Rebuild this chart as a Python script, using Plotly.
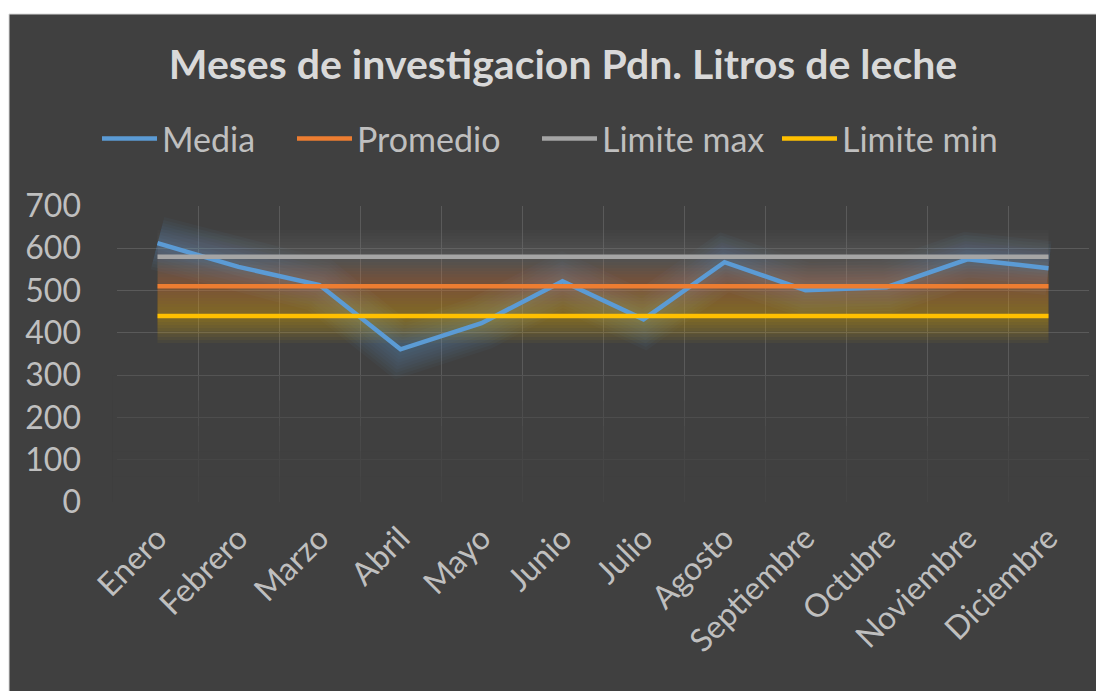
import plotly.graph_objects as go

# === DATA ===
meses = ["Enero", "Febrero", "Marzo", "Abril", "Mayo", "Junio", "Julio",
         "Agosto", "Septiembre", "Octubre", "Noviembre", "Diciembre"]
media = [612, 556, 513, 361, 423, 522, 432, 567, 501, 508, 574, 553]
promedio = [510] * 12
limite_max = [580] * 12
limite_min = [440] * 12

SERIES = [
    ("Media", media, "#5b9bd5"),
    ("Promedio", promedio, "#ed7d31"),
    ("Limite max", limite_max, "#a5a5a5"),
    ("Limite min", limite_min, "#ffc000"),
]
LEGEND_X = [103, 298, 543, 783]  # where each legend entry starts (px)

BG = "#404040"
FONT = "Lato"
OFF = 8  # page body margin the figure sits inside

W, H = 1104, 691
L, T = 117 - OFF, 206 - OFF
R, B = W - (1089 - OFF), H - (502 - OFF)
pw, ph = W - L - R, H - T - B


def px_x(x):
    return (x - OFF - L) / pw


def px_y(y):
    return (H - B - (y - OFF)) / ph


fig = go.Figure()

# soft glow under each line (many thin translucent layers)
for name, vals, color in SERIES:
    op_scale = 0.45 if name == "Limite max" else 1.0
    for w in range(54, 6, -6):
        fig.add_trace(go.Scatter(x=meses, y=vals, mode="lines",
                                 line=dict(color=color, width=w),
                                 opacity=0.045 * op_scale, showlegend=False,
                                 hoverinfo="skip"))

legends = {}
for i, (name, vals, color) in enumerate(SERIES):
    key = "legend" if i == 0 else f"legend{i + 1}"
    fig.add_trace(go.Scatter(x=meses, y=vals, mode="lines", name=name,
                             line=dict(color=color, width=4.5), legend=key))
    legends[key] = dict(orientation="h", x=px_x(LEGEND_X[i]) - 6 / pw, xanchor="left",
                        y=px_y(139), yanchor="middle",
                        font=dict(family=FONT, size=34, color="#bfbfbf"),
                        bgcolor="rgba(0,0,0,0)", itemwidth=55)

shapes = [dict(type="rect", xref="paper", yref="paper", layer="below",
               x0=px_x(9), x1=px_x(1110), y0=px_y(700), y1=px_y(14),
               fillcolor=BG, line=dict(color="#d9d9d9", width=1))]
# gridlines fade out toward the bottom
for top in (300, 240, 180, 120, 60):
    shapes.append(dict(type="rect", xref="paper", yref="y", layer="above",
                       x0=-0.005, x1=1.005, y0=-10, y1=top,
                       fillcolor="rgba(64,64,64,0.28)", line=dict(width=0)))

fig.update_layout(
    width=W, height=H,
    margin=dict(l=L, r=R, t=T, b=B),
    paper_bgcolor="white",
    plot_bgcolor="rgba(0,0,0,0)",
    font=dict(family=FONT, color="#bfbfbf", size=32),
    title=dict(text="<b>Meses de investi\u200cgacion Pdn. Litros de leche</b>",
               x=(563 - OFF) / W, xanchor="center", y=1 - (65 - OFF) / H,
               yanchor="middle",
               font=dict(family=FONT, size=41, color="#d9d9d9")),
    shapes=shapes,
    showlegend=True,
    **legends,
)

fig.update_xaxes(type="category", tickson="boundaries", tickangle=-45,
                 showgrid=True, gridcolor="#5a5a5a", gridwidth=1,
                 ticks="", showline=False, zeroline=False,
                 ticklabelstandoff=10,
                 tickfont=dict(family=FONT, size=32, color="#bfbfbf"),
                 range=[-0.5, 11.5])
fig.update_yaxes(range=[0, 700], dtick=100, showgrid=True, gridcolor="#5a5a5a",
                 gridwidth=1, zeroline=False, showline=False, ticks="",
                 ticklabelstandoff=35,
                 tickfont=dict(family=FONT, size=32, color="#bfbfbf"))

fig.write_html("out.html")
